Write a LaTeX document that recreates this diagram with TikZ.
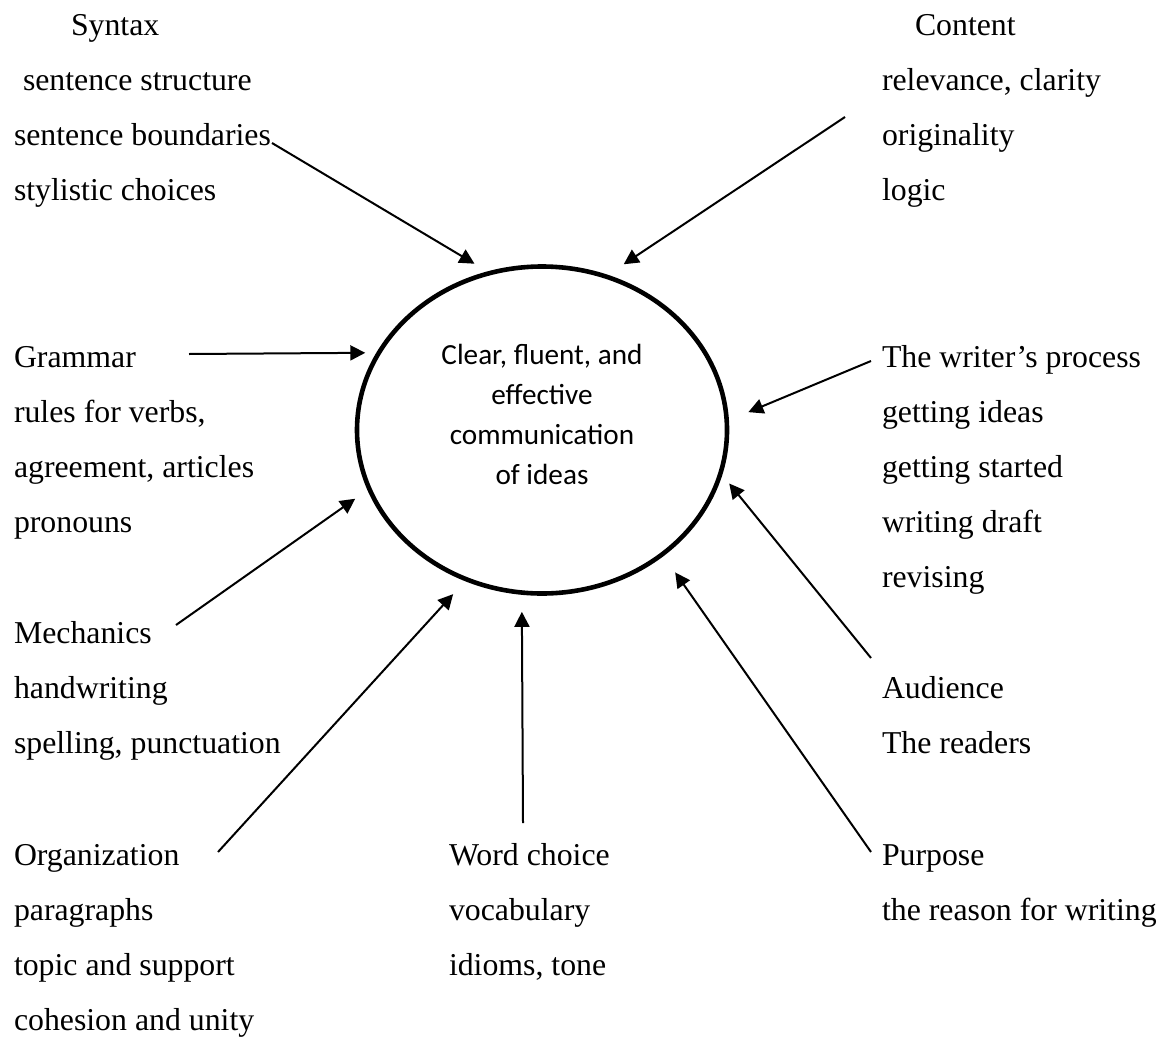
\documentclass[tikz,border=0pt]{standalone}
\usepackage{fontspec}
\setmainfont{Liberation Serif}
\newfontfamily\calibfont{Carlito}
\usetikzlibrary{arrows.meta, shapes.geometric}

\newcommand{\topicfont}{\fontsize{15.9}{27.5}\selectfont}
\newcommand{\goalfont}{\calibfont\fontsize{14.6}{20}\selectfont}

\begin{document}
\begin{tikzpicture}[x=0.5pt, y=-0.5pt, line width=1pt, >={Triangle[length=7.5pt, width=7.5pt]},
	topic/.style = {anchor=base west, align=left, inner sep=0pt, font=\topicfont}]
	\useasboundingbox (0,0) rectangle (1160,1038);

	% the goal in the middle
	\node[ellipse, draw, line width=2.3pt, minimum width=185pt, minimum height=163.5pt, inner sep=0pt] (ideas) at (542,430) {};
	\node[align=center, inner sep=0pt, font=\goalfont] (goal) at (542,414) {Clear, fluent, and\\effective\\communication\\of ideas};

	% the parts of writing (placed at the baseline of their last line)
	\node[topic] (syntax) at (13,200) {\hspace{28.5pt}Syntax\\\hspace{4.5pt}sentence structure\\sentence boundaries\\stylistic choices};
	\node[topic] (content) at (881,200) {\hspace{16.5pt}Content\\relevance, clarity\\originality\\logic};
	\node[topic] (grammar) at (13,532) {Grammar\\rules for verbs,\\agreement, articles\\pronouns};
	\node[topic] (process) at (881,587) {The writer’s process\\getting ideas\\getting started\\writing draft\\revising};
	\node[topic] (mechanics) at (13,753) {Mechanics\\handwriting\\spelling, punctuation};
	\node[topic] (audience) at (881,753) {Audience\\The readers};
	\node[topic] (organization) at (13,1030) {Organization\\paragraphs\\topic and support\\cohesion and unity};
	\node[topic] (wordchoice) at (448,975) {Word choice\\vocabulary\\idioms, tone};
	\node[topic] (purpose) at (881,920) {Purpose\\the reason for writing};

	% where the arrows start
	\coordinate (fromSyntax) at (272,143);
	\coordinate (fromContent) at (845,117);
	\coordinate (fromGrammar) at (189,354);
	\coordinate (fromProcess) at (871,361);
	\coordinate (fromMechanics) at (176,625);
	\coordinate (fromAudience) at (871,658);
	\coordinate (fromPurpose) at (871,852);
	\coordinate (fromWordchoice) at (523,823);
	\coordinate (fromOrganization) at (218,852);

	\path[->] (fromSyntax) edge[shorten >=7.5pt] (ideas.109.1)
	(fromContent)      edge[shorten >=9.5pt]  (ideas.67.3)
	(fromGrammar)      edge[shorten >=5.5pt]  (ideas.155.9)
	(fromProcess)      edge[shorten >=10.5pt] (ideas.3.1)
	(fromMechanics)    edge[shorten >=7.5pt]  (ideas.-161.1)
	(fromAudience)     edge[shorten >=5.5pt]  (ideas.-14)
	(fromPurpose)      edge[shorten >=10pt]   (ideas.-46.2)
	(fromWordchoice)   edge[shorten >=8.5pt]  (ideas.-97)
	(fromOrganization) edge[shorten >=8.8pt]  (ideas.-117.1);
\end{tikzpicture}
\end{document}
